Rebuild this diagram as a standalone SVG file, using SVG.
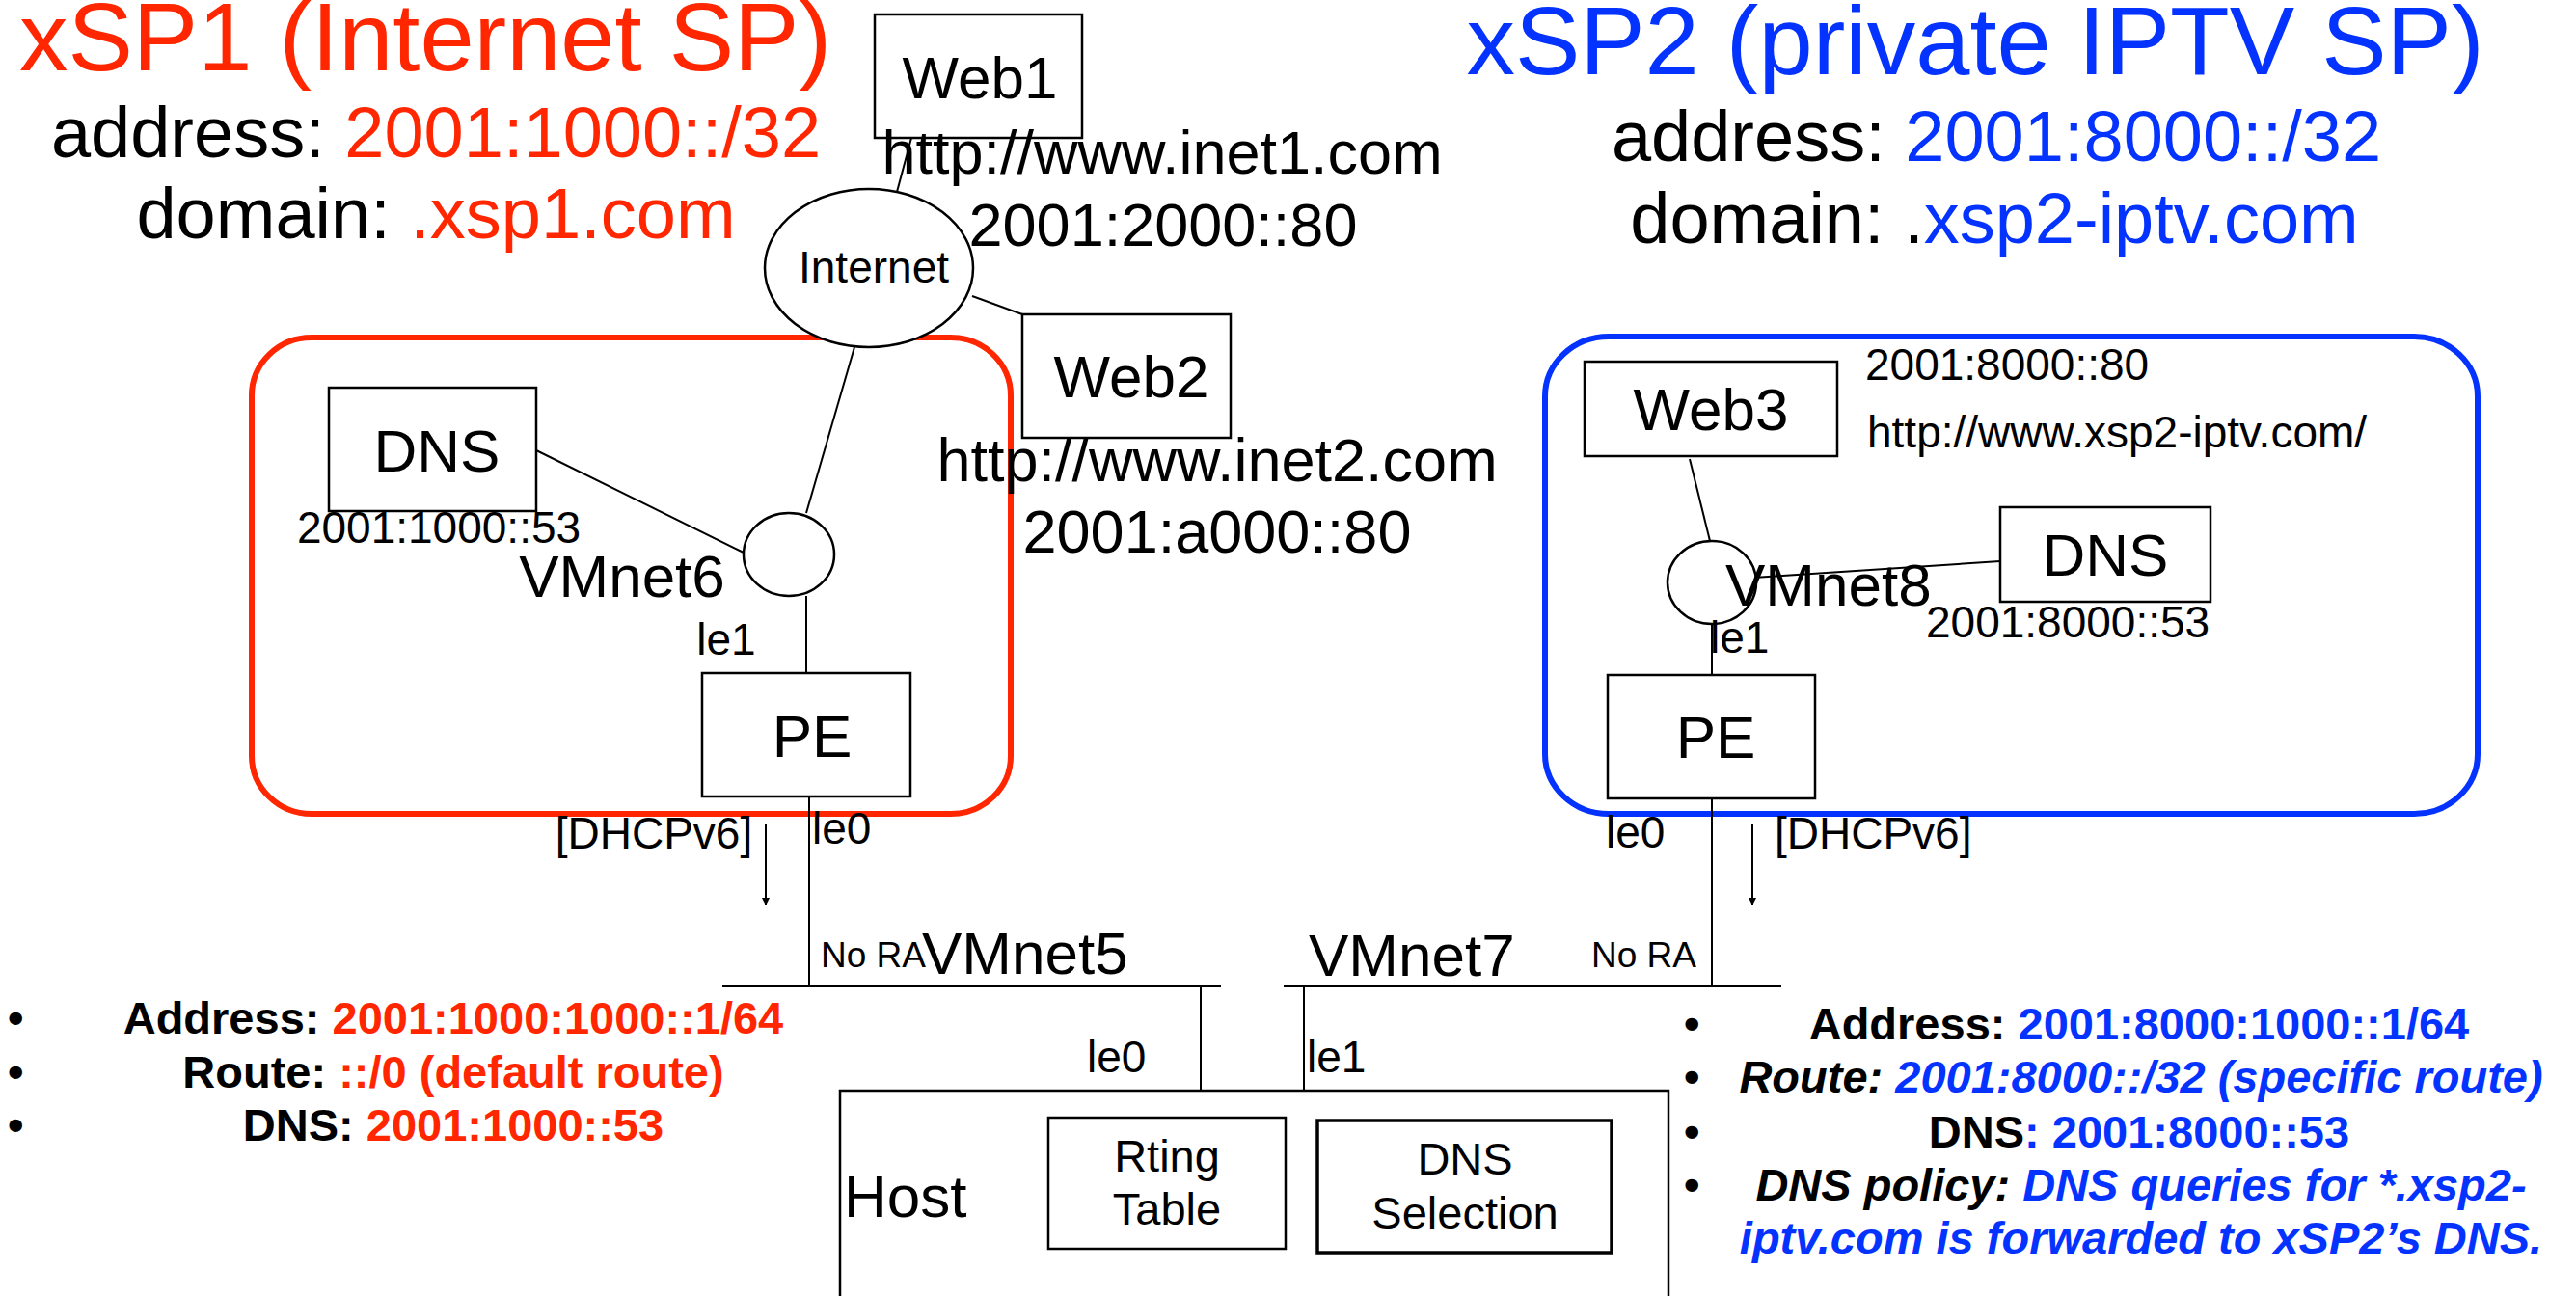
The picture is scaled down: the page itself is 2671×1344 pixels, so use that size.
<svg xmlns="http://www.w3.org/2000/svg" width="2671" height="1344" viewBox="0 0 2671 1344">
  <style>
    text { font-family: "Liberation Sans", Arial, sans-serif; fill: #000; }
    .box { fill: #fff; stroke: #000; stroke-width: 2.5; }
    .cloud { fill: #fff; stroke: #000; stroke-width: 2.5; }
    .link { stroke: #000; stroke-width: 2; fill: none; }
    .zone1 { fill: none; stroke: #FF2600; stroke-width: 6; }
    .zone2 { fill: none; stroke: #0433FF; stroke-width: 6; }
    .title { font-size: 101px; text-anchor: middle; }
    .sub { font-size: 74px; text-anchor: middle; }
    .big { font-size: 62px; }
    .url { font-size: 63px; text-anchor: middle; }
    .small { font-size: 46px; }
    .tiny { font-size: 37px; }
    .label { font-size: 47px; }
    .mid { text-anchor: middle; }
    .bul { font-size: 47px; font-weight: bold; }
    .it { font-style: italic; }
    .red { fill: #FF2600; }
    .blue { fill: #0433FF; }
  </style>
  <defs>
    <marker id="arrow" viewBox="0 0 10 10" refX="10" refY="5" markerWidth="8" markerHeight="10" markerUnits="userSpaceOnUse" orient="auto">
      <path d="M0,0 L10,5 L0,10 z" fill="#000"/>
    </marker>
  </defs>

  <rect width="2671" height="1344" fill="#fff"/>

  <!-- provider areas -->
  <rect id="xsp1-area" class="zone1" x="261" y="350" width="787" height="494" rx="62" ry="60"/>
  <rect id="xsp2-area" class="zone2" x="1602" y="349" width="967" height="495" rx="66" ry="62"/>

  <!-- provider headers -->
  <g id="xsp1-header">
    <text class="title red" x="441" y="73">xSP1 (Internet SP)</text>
    <text class="sub" x="452" y="163">address: <tspan class="red">2001:1000::/32</tspan></text>
    <text class="sub" x="452" y="247">domain: <tspan class="red">.xsp1.com</tspan></text>
  </g>
  <g id="xsp2-header">
    <text class="title blue" x="2048" y="77">xSP2 (private IPTV SP)</text>
    <text class="sub" x="2070" y="167">address: <tspan class="blue">2001:8000::/32</tspan></text>
    <text class="sub" x="2068" y="252">domain: .<tspan class="blue">xsp2-iptv.com</tspan></text>
  </g>

  <!-- connectors -->
  <g id="connectors">
    <line class="link" x1="945" y1="143" x2="930" y2="199"/>
    <line class="link" x1="1008" y1="307" x2="1060" y2="326"/>
    <line class="link" x1="886" y1="360" x2="836" y2="532"/>
    <line class="link" x1="556" y1="467" x2="771" y2="573"/>
    <line class="link" x1="836" y1="618" x2="836" y2="698"/>
    <line class="link" x1="839" y1="826" x2="839" y2="1023"/>
    <line class="link" x1="749" y1="1023" x2="1266" y2="1023"/>
    <line class="link" x1="1245" y1="1023" x2="1245" y2="1131"/>
    <line class="link" x1="1331" y1="1023" x2="1847" y2="1023"/>
    <line class="link" x1="1352" y1="1023" x2="1352" y2="1131"/>
    <line class="link" x1="1775" y1="828" x2="1775" y2="1023"/>
    <line class="link" x1="1752" y1="476" x2="1773" y2="561"/>
    <line class="link" x1="2074" y1="582" x2="1818" y2="599"/>
    <line class="link" x1="1775" y1="647" x2="1775" y2="700"/>
    <line class="link" x1="794" y1="855" x2="794" y2="939" marker-end="url(#arrow)"/>
    <line class="link" x1="1817" y1="855" x2="1817" y2="939" marker-end="url(#arrow)"/>
  </g>

  <!-- Internet side -->
  <g id="web1">
    <rect class="box" x="907" y="15" width="215" height="128"/>
    <text class="big mid" x="1016" y="102">Web1</text>
    <text class="url" x="1205" y="180">http://www.inet1.com</text>
    <text class="url" x="1206" y="255">2001:2000::80</text>
  </g>
  <g id="internet">
    <ellipse class="cloud" cx="901" cy="278" rx="108" ry="82"/>
    <text class="small mid" x="906" y="293">Internet</text>
  </g>
  <g id="web2">
    <rect class="box" x="1060" y="326" width="216" height="128"/>
    <text class="big mid" x="1173" y="412">Web2</text>
    <text class="url" x="1262" y="499">http://www.inet2.com</text>
    <text class="url" x="1262" y="573">2001:a000::80</text>
  </g>

  <!-- xSP1 -->
  <g id="dns1">
    <rect class="box" x="341" y="402" width="215" height="128"/>
    <text class="big mid" x="453" y="489">DNS</text>
    <text class="small mid" x="455" y="563">2001:1000::53</text>
  </g>
  <g id="vmnet6">
    <ellipse class="cloud" cx="818" cy="575" rx="47" ry="43"/>
    <text class="big mid" x="645" y="619">VMnet6</text>
  </g>
  <g id="pe1">
    <rect class="box" x="728" y="698" width="216" height="128"/>
    <text class="big mid" x="842" y="785">PE</text>
    <text class="small mid" x="753" y="679">le1</text>
    <text class="small" x="842" y="875">le0</text>
    <text class="small mid" x="678" y="880">[DHCPv6]</text>
  </g>
  <g id="vmnet5">
    <text class="tiny" x="851" y="1003">No RA</text>
    <text class="big" x="956" y="1010">VMnet5</text>
  </g>

  <!-- xSP2 -->
  <g id="web3">
    <rect class="box" x="1643" y="375" width="262" height="98"/>
    <text class="big mid" x="1774" y="446">Web3</text>
    <text class="small" x="1934" y="394">2001:8000::80</text>
    <text class="small" x="1936" y="464">http://www.xsp2-iptv.com/</text>
  </g>
  <g id="vmnet8">
    <ellipse class="cloud" cx="1775" cy="604" rx="46" ry="43"/>
    <text class="big" x="1789" y="628">VMnet8</text>
  </g>
  <g id="dns2">
    <rect class="box" x="2074" y="526" width="218" height="98"/>
    <text class="big mid" x="2183" y="597">DNS</text>
    <text class="small" x="1997" y="661">2001:8000::53</text>
  </g>
  <g id="pe2">
    <rect class="box" x="1667" y="700" width="215" height="128"/>
    <text class="big mid" x="1779" y="786">PE</text>
    <text class="small" x="1773" y="677">le1</text>
    <text class="small" x="1665" y="879">le0</text>
    <text class="small" x="1840" y="880">[DHCPv6]</text>
  </g>
  <g id="vmnet7">
    <text class="big" x="1357" y="1012">VMnet7</text>
    <text class="tiny" x="1650" y="1003">No RA</text>
  </g>

  <!-- host -->
  <g id="host">
    <rect class="box" x="871" y="1131" width="859" height="300"/>
    <text class="big" x="875" y="1262">Host</text>
    <text class="small" x="1127" y="1112">le0</text>
    <text class="small" x="1355" y="1112">le1</text>
  </g>
  <g id="routing-table">
    <rect class="box" x="1087" y="1159" width="246" height="136"/>
    <text class="label mid" x="1210" y="1215">Rting</text>
    <text class="label mid" x="1210" y="1270">Table</text>
  </g>
  <g id="dns-selection">
    <rect class="box" x="1366" y="1162" width="305" height="137" style="stroke-width:3.5"/>
    <text class="label mid" x="1519" y="1218">DNS</text>
    <text class="label mid" x="1519" y="1274">Selection</text>
  </g>

  <!-- xSP1 provisioning -->
  <g id="xsp1-config">
    <text class="bul" x="8" y="1072">•</text>
    <text class="bul" x="8" y="1128">•</text>
    <text class="bul" x="8" y="1183">•</text>
    <text class="bul mid" x="470" y="1072">Address: <tspan class="red">2001:1000:1000::1/64</tspan></text>
    <text class="bul mid" x="470" y="1128">Route: <tspan class="red">::/0 (default route)</tspan></text>
    <text class="bul mid" x="470" y="1183">DNS: <tspan class="red">2001:1000::53</tspan></text>
  </g>

  <!-- xSP2 provisioning -->
  <g id="xsp2-config">
    <text class="bul" x="1746" y="1078">•</text>
    <text class="bul" x="1746" y="1133">•</text>
    <text class="bul" x="1746" y="1190">•</text>
    <text class="bul" x="1746" y="1245">•</text>
    <text class="bul mid" x="2218" y="1078">Address: <tspan class="blue">2001:8000:1000::1/64</tspan></text>
    <text class="bul mid it" x="2220" y="1133">Route: <tspan class="blue">2001:8000::/32 (specific route)</tspan></text>
    <text class="bul mid" x="2218" y="1190">DNS<tspan class="blue">: 2001:8000::53</tspan></text>
    <text class="bul mid it" x="2220" y="1245">DNS policy: <tspan class="blue">DNS queries for *.xsp2-</tspan></text>
    <text class="bul mid it blue" x="2220" y="1300">iptv.com is forwarded to xSP2’s DNS.</text>
  </g>
</svg>
